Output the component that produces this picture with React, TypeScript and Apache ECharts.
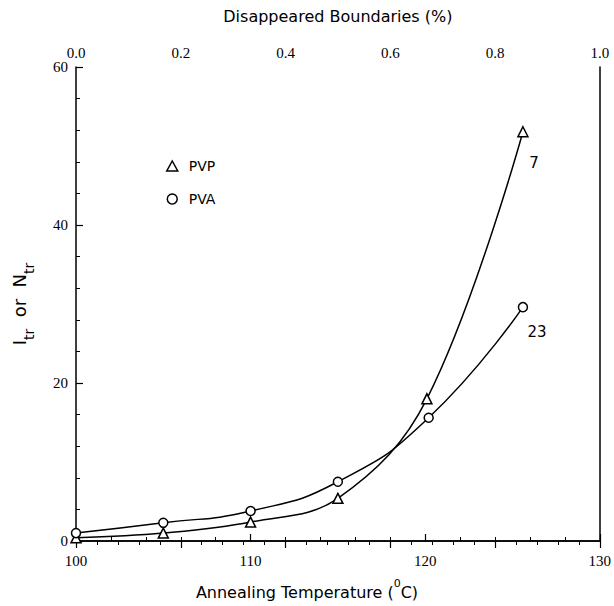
import React, { useEffect, useRef } from "react";
import * as echarts from "echarts";

const seriesNames = ["PVP", "PVA"];
const curveLabels = ["7", "23"];
const pvpTemp = [100, 105, 110, 115, 120.1, 125.6];
const pvpValues = [0.4, 1.0, 2.4, 5.4, 18.0, 51.8];
const pvaTemp = [100, 105, 110, 115, 120.2, 125.6];
const pvaValues = [1.0, 2.3, 3.8, 7.5, 15.6, 29.6];
const bottomTicks = [100, 110, 120, 130];
const topTicks = [0.0, 0.2, 0.4, 0.6, 0.8, 1.0];
const leftTicks = [0, 20, 40, 60];

export default function App() {
  const ref = useRef<HTMLDivElement>(null);
  useEffect(() => {
    const chart = echarts.init(ref.current!, null, { renderer: "svg" });
    const serif = "Liberation Serif";
    const sans = "DejaVu Sans";
    const mk = (xs: number[], ys: number[], lab: string, off: number[]) =>
      xs.map((x, i) => {
        const d: any = { value: [x, ys[i]] };
        if (i === xs.length - 1) {
          d.label = {
            show: true,
            formatter: lab,
            position: "inside",
            offset: off,
            fontFamily: sans,
            fontSize: 15,
            color: "#000",
          };
        }
        return d;
      });
    const axisCommon = {
      axisLine: { show: true, lineStyle: { color: "#000", width: 1.5 } },
      axisTick: { show: true, inside: true, length: 7, lineStyle: { color: "#000", width: 1.2 } },
      minorTick: { show: true, splitNumber: 5, length: 4, lineStyle: { color: "#000", width: 1 } },
      splitLine: { show: false },
    };
    const option: any = {
      animation: false,
      backgroundColor: "#fff",
      grid: { left: 76, right: 13, top: 67, bottom: 65, containLabel: false },
      legend: {
        orient: "vertical",
        left: 166,
        top: 159,
        padding: 0,
        itemGap: 19,
        itemWidth: 11,
        itemHeight: 10,
        textStyle: { fontFamily: sans, fontSize: 14, color: "#000", padding: [0, 0, 0, 6] },
        data: [
          { name: seriesNames[0], icon: "triangle", itemStyle: { color: "#fff", borderColor: "#000", borderWidth: 1.5 } },
          { name: seriesNames[1], icon: "circle", itemStyle: { color: "#fff", borderColor: "#000", borderWidth: 1.5 } },
        ],
      },
      xAxis: [
        {
          type: "value",
          position: "bottom",
          min: bottomTicks[0],
          max: bottomTicks[bottomTicks.length - 1],
          interval: bottomTicks[1] - bottomTicks[0],
          ...axisCommon,
          axisLabel: { fontFamily: serif, fontSize: 15, color: "#000", margin: 12 },
        },
        {
          type: "value",
          position: "top",
          min: topTicks[0],
          max: topTicks[topTicks.length - 1],
          interval: 0.2,
          ...axisCommon,
          axisLabel: {
            fontFamily: serif,
            fontSize: 15,
            color: "#000",
            margin: 7,
            formatter: (v: number) => v.toFixed(1),
          },
          name: "Disappeared Boundaries (%)",
          nameLocation: "middle",
          nameGap: 43,
          nameTextStyle: { fontFamily: sans, fontSize: 16, color: "#000" },
        },
      ],
      yAxis: [
        {
          type: "value",
          position: "left",
          min: leftTicks[0],
          max: leftTicks[leftTicks.length - 1],
          interval: 20,
          ...axisCommon,
          axisLabel: { fontFamily: serif, fontSize: 15, color: "#000", margin: 8 },
          name: "{n|I}{s|tr}{n|  or  N}{s|tr}",
          nameLocation: "middle",
          nameRotate: 90,
          nameGap: 40,
          nameTextStyle: {
            fontFamily: sans,
            color: "#000",
            rich: {
              n: { fontFamily: sans, fontSize: 18, color: "#000", lineHeight: 26, verticalAlign: "top" },
              s: { fontFamily: sans, fontSize: 14, color: "#000", lineHeight: 26, verticalAlign: "bottom" },
            },
          },
        },
        {
          type: "value",
          position: "right",
          min: 0,
          max: 60,
          interval: 20,
          axisLine: { show: true, lineStyle: { color: "#000", width: 1.5 } },
          axisTick: { show: false },
          axisLabel: { show: false },
          splitLine: { show: false },
        },
      ],
      graphic: [
        {
          type: "text",
          left: "center",
          top: 578,
          style: {
            text: "{n|Annealing Temperature (}{p|0}{n|C)}",
            rich: {
              n: { fontFamily: sans, fontSize: 16, fill: "#000", lineHeight: 22, verticalAlign: "bottom" },
              p: { fontFamily: sans, fontSize: 11, fill: "#000", lineHeight: 22, verticalAlign: "top" },
            },
          },
        },
      ],
      series: [
        {
          name: seriesNames[0],
          type: "line",
          xAxisIndex: 0,
          yAxisIndex: 0,
          smooth: 0.38,
          symbol: "triangle",
          symbolSize: 10,
          itemStyle: { color: "#fff", borderColor: "#000", borderWidth: 1.5 },
          lineStyle: { color: "#000", width: 1.5 },
          data: mk(pvpTemp, pvpValues, curveLabels[0], [11, 31]),
          z: 3,
        },
        {
          name: seriesNames[1],
          type: "line",
          xAxisIndex: 0,
          yAxisIndex: 0,
          smooth: 0.5,
          symbol: "circle",
          symbolSize: 9,
          itemStyle: { color: "#fff", borderColor: "#000", borderWidth: 1.5 },
          lineStyle: { color: "#000", width: 1.5 },
          data: mk(pvaTemp, pvaValues, curveLabels[1], [14, 25]),
          z: 3,
        },
      ],
    };
    chart.setOption(option);
    return () => chart.dispose();
  }, []);
  return <div ref={ref} style={{ width: 614, height: 606, position: "absolute", left: 0, top: 0 }} />;
}
